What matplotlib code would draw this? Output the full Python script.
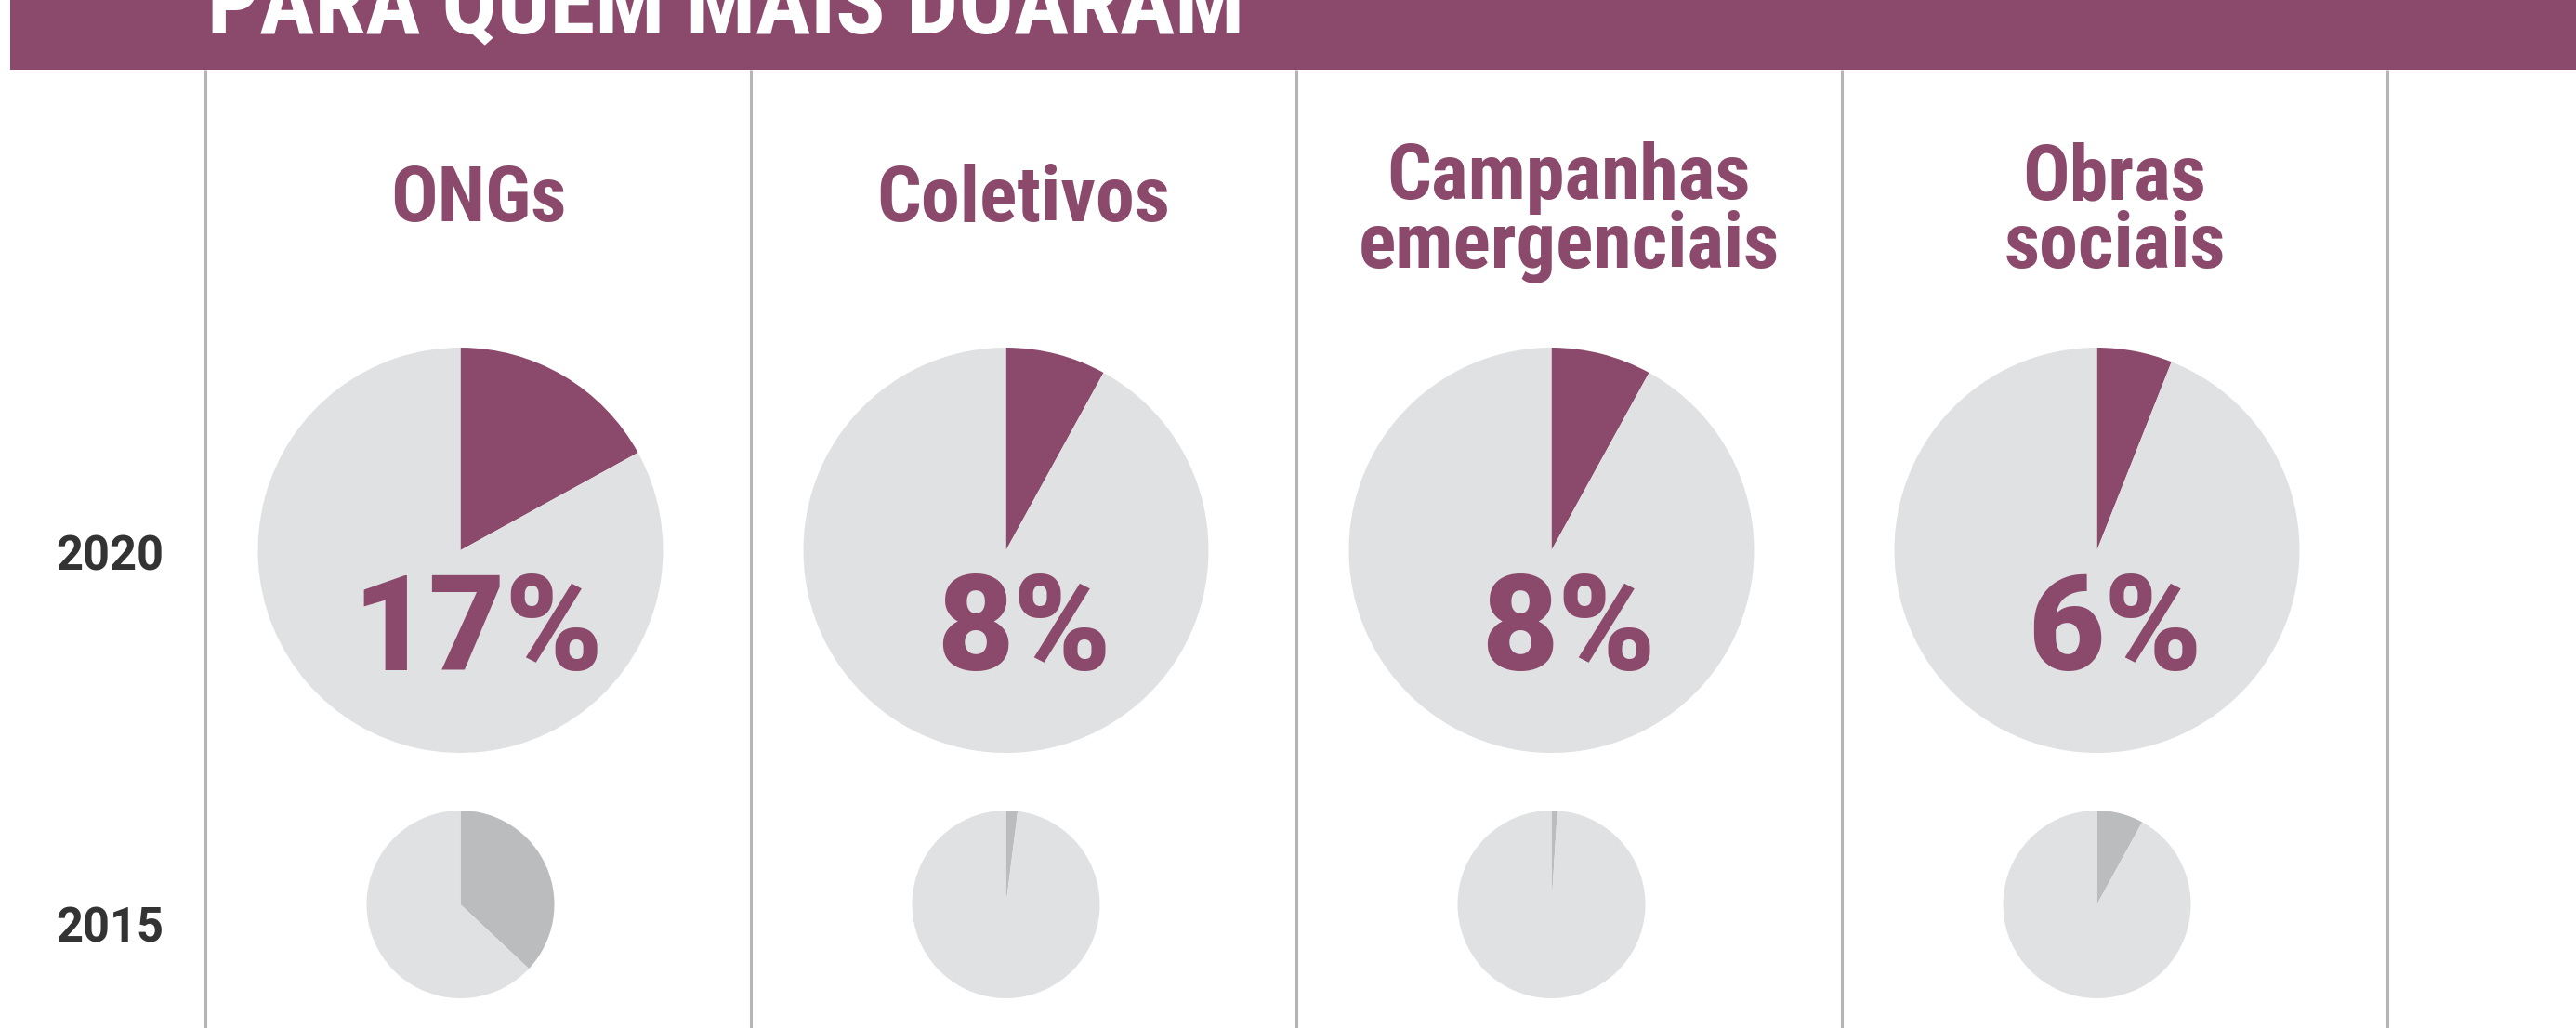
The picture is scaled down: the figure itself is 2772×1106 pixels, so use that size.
import matplotlib
matplotlib.use("Agg")
import matplotlib.pyplot as plt
from matplotlib.patches import Rectangle

# data
title = "PARA QUEM MAIS DOARAM"
categories = ["ONGs", "Coletivos", "Campanhas\nemergenciais", "Obras\nsociais"]
years = ["2020", "2015"]
share_2020 = [17, 8, 8, 6]
share_2015 = [37, 2, 1, 8]

W, H = 2772, 1106
PURPLE = "#8b4a6c"
LIGHT = "#e0e1e3"
MID = "#bbbcbe"
LINE = "#b5b5b5"
DARK = "#333333"

narrow = ["Liberation Sans Narrow", "Roboto Condensed", "DejaVu Sans"]
wide = ["Roboto", "DejaVu Sans"]


def px(v):
    # pixel size -> points at dpi 100
    return v * 72 / 100


def Y(v):
    # pixel rows counted from the top -> data y
    return H - v


fig = plt.figure(figsize=(W / 100, H / 100), dpi=100)
ax = fig.add_axes([0, 0, 1, 1])

col_w = 587
first_line = 221
pie_shift = -19

# pies
for i in range(len(categories)):
    cx = first_line + col_w * i + col_w / 2 + pie_shift
    v = share_2020[i]
    ax.pie([v, 100 - v], colors=[PURPLE, LIGHT], startangle=90, counterclock=False,
           center=(cx, Y(592)), radius=218, wedgeprops=dict(linewidth=0))
    v = share_2015[i]
    ax.pie([v, 100 - v], colors=[MID, LIGHT], startangle=90, counterclock=False,
           center=(cx, Y(973)), radius=101, wedgeprops=dict(linewidth=0))

ax.set_xlim(0, W)
ax.set_ylim(0, H)
ax.set_aspect("auto")
ax.axis("off")

# header bar
ax.add_patch(Rectangle((11, Y(75)), W - 11, 75, color=PURPLE, lw=0, zorder=5))
ax.text(223, Y(35), title, color="white", fontsize=px(99), fontweight="bold",
        family=narrow, ha="left", va="baseline", zorder=6, clip_on=True)

# column separators
for i in range(len(categories) + 1):
    x = first_line + col_w * i
    ax.plot([x, x], [Y(75), 0], color=LINE, lw=2.2, zorder=1, solid_capstyle="butt")

# category names and percentages
for i, name in enumerate(categories):
    cx = first_line + col_w * i + col_w / 2
    lines = name.split("\n")
    base = 238 - 24 * (len(lines) - 1)
    for k, ln in enumerate(lines):
        ax.text(cx, Y(base + 74 * k), ln, color=PURPLE, fontsize=px(84),
                fontweight="bold", family=narrow, ha="center", va="baseline")
    ax.text(cx, Y(721), f"{share_2020[i]}%", color=PURPLE, fontsize=px(142),
            fontweight=900, family=wide, ha="center", va="baseline", zorder=4)

# year labels
for yr, base in zip(years, [614, 1013]):
    ax.text(118, Y(base), yr, color=DARK, fontsize=px(50.6), fontweight="bold",
            family=wide, ha="center", va="baseline")

fig.savefig("out.png", dpi=100)
